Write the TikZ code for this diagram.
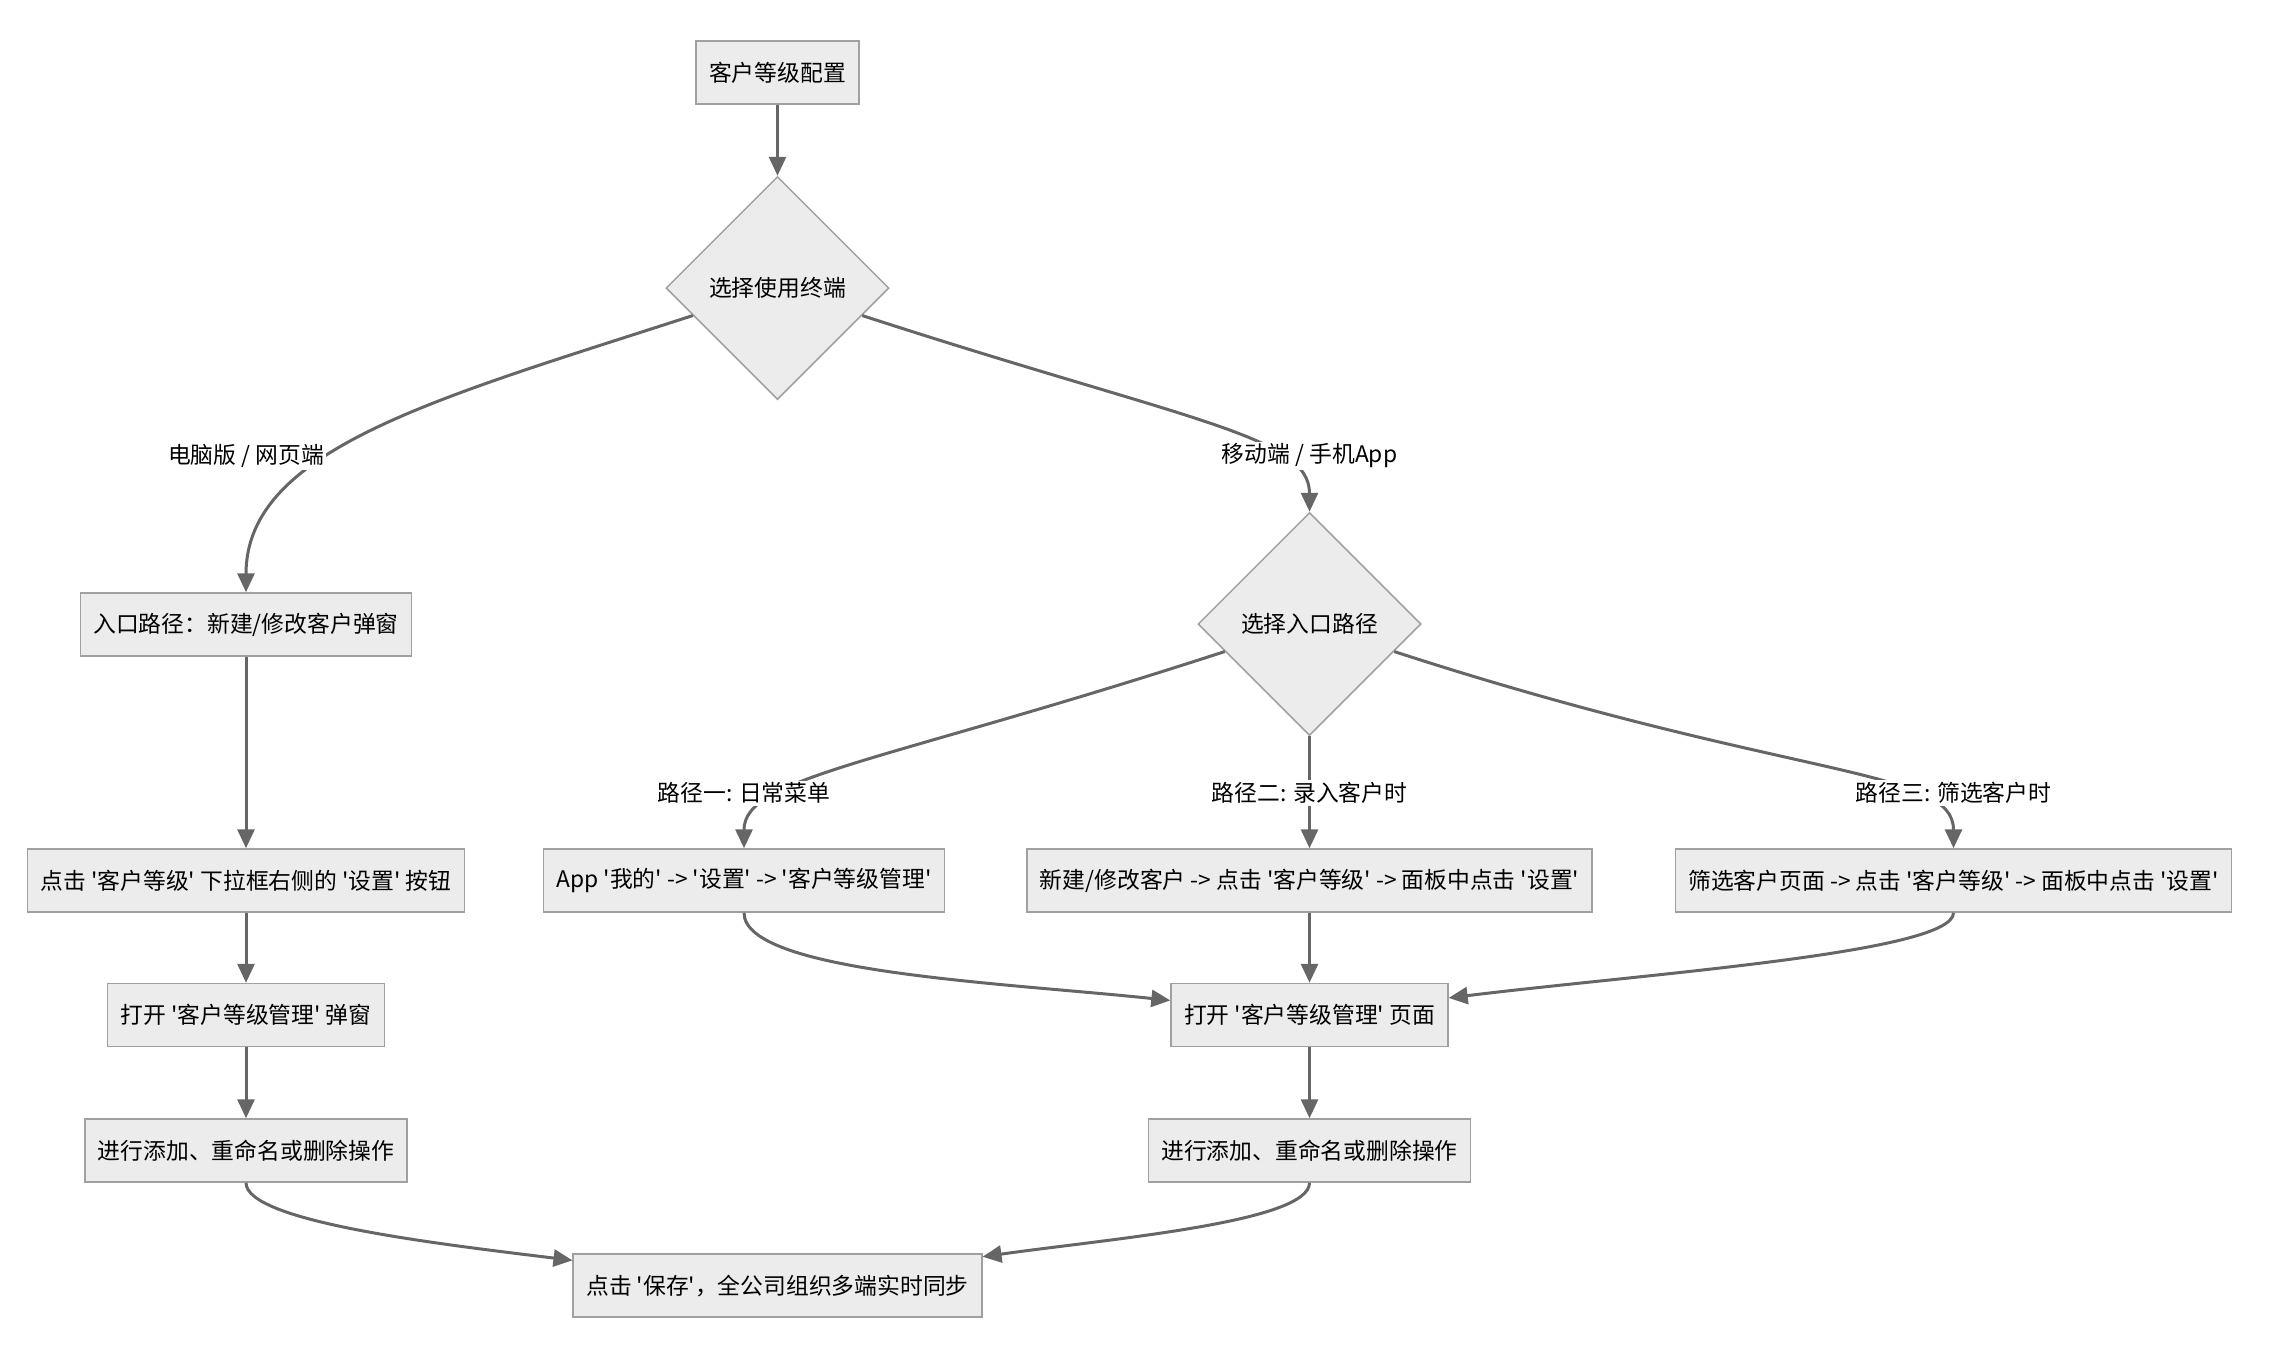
\documentclass[tikz,border=0pt]{standalone}
\usepackage{fontspec}
\setmainfont{Noto Sans CJK SC}[Ligatures=TeXOff]
\usepackage{tikz}
\usetikzlibrary{arrows.meta, shapes.geometric}

\definecolor{boxfill}{RGB}{236,236,236}
\definecolor{boxline}{RGB}{160,160,160}
\definecolor{flowline}{RGB}{102,102,102}

\begin{document}
\begin{tikzpicture}[x=0.5pt, y=-0.5pt,
    every node/.style={font=\fontsize{11.4}{13.7}\selectfont},
    stepbox/.style={draw=boxline, fill=boxfill, line width=0.75pt, minimum height=31.5pt, inner xsep=6.5pt},
    choice/.style={diamond, aspect=1, draw=boxline, fill=boxfill, line width=0.75pt, minimum width=111.5pt, minimum height=111.5pt, inner sep=0pt},
    flow/.style={draw=flowline, line width=1.5pt, -{Triangle[length=9.5pt, width=8.5pt]}},
    tag/.style={fill=white, inner sep=1pt}]
    \useasboundingbox (0,0) rectangle (2270,1362);
    % Start
    \node[stepbox] (cfg) at (777.5,72.5) {客户等级配置};
    \node[choice] (term) at (777.5,288) {选择使用终端};
    % PC / web
    \node[stepbox] (pcentry) at (246,624.5) {入口路径：新建/修改客户弹窗};
    \node[stepbox] (pcbtn) at (246,880.5) {点击 '客户等级' 下拉框右侧的 '设置' 按钮};
    \node[stepbox] (pcdlg) at (246,1015) {打开 '客户等级管理' 弹窗};
    \node[stepbox] (pcedit) at (246,1150.5) {进行添加、重命名或删除操作};
    % Mobile
    \node[choice] (route) at (1309.5,624) {选择入口路径};
    \node[stepbox] (appmenu) at (744,880.5) {App '我的' -> '设置' -> '客户等级管理'};
    \node[stepbox] (newcust) at (1309.5,880.5) {新建/修改客户 -> 点击 '客户等级' -> 面板中点击 '设置'};
    \node[stepbox] (filter) at (1953.5,880.5) {筛选客户页面 -> 点击 '客户等级' -> 面板中点击 '设置'};
    \node[stepbox] (mpage) at (1309.5,1015) {打开 '客户等级管理' 页面};
    \node[stepbox] (mobedit) at (1309.5,1150.5) {进行添加、重命名或删除操作};
    % End
    \node[stepbox] (save) at (777.5,1285.5) {点击 '保存'，全公司组织多端实时同步};
    % Edges
    \draw[flow] (cfg) -- (term);
    \draw[flow] (term.198) to[out=198, in=90, out looseness=1.3, in looseness=0.7] (pcentry.north);
    \draw[flow] (pcentry) -- (pcbtn);
    \draw[flow] (pcbtn) -- (pcdlg);
    \draw[flow] (pcdlg) -- (pcedit);
    \draw[flow] (term.342) to[out=-18, in=90, out looseness=1.8, in looseness=0.4] (route.north);
    \draw[flow] (route.198) to[out=198, in=90, out looseness=1.8, in looseness=0.35] (appmenu.north);
    \draw[flow] (route) -- (newcust);
    \draw[flow] (route.342) to[out=-18, in=90, out looseness=1.8, in looseness=0.35] (filter.north);
    \draw[flow] (appmenu.south) to[out=-90, in=174, out looseness=0.35] (mpage);
    \draw[flow] (newcust) -- (mpage);
    \draw[flow] (filter.south) to[out=-90, in=7, out looseness=0.2] (mpage);
    \draw[flow] (mpage) -- (mobedit);
    \draw[flow] (pcedit.south) to[out=-90, in=173, out looseness=0.3] (save);
    \draw[flow] (mobedit.south) to[out=-90, in=8, out looseness=0.3] (save);
    % Edge labels
    \node[tag] (lpc) at (246,456) {电脑版 / 网页端};
    \node[tag] (lmob) at (1309.5,456) {移动端 / 手机App};
    \node[tag] (lone) at (744,793) {路径一: 日常菜单};
    \node[tag] (ltwo) at (1309.5,793) {路径二: 录入客户时};
    \node[tag] (lthree) at (1953.5,793) {路径三: 筛选客户时};
\end{tikzpicture}
\end{document}
